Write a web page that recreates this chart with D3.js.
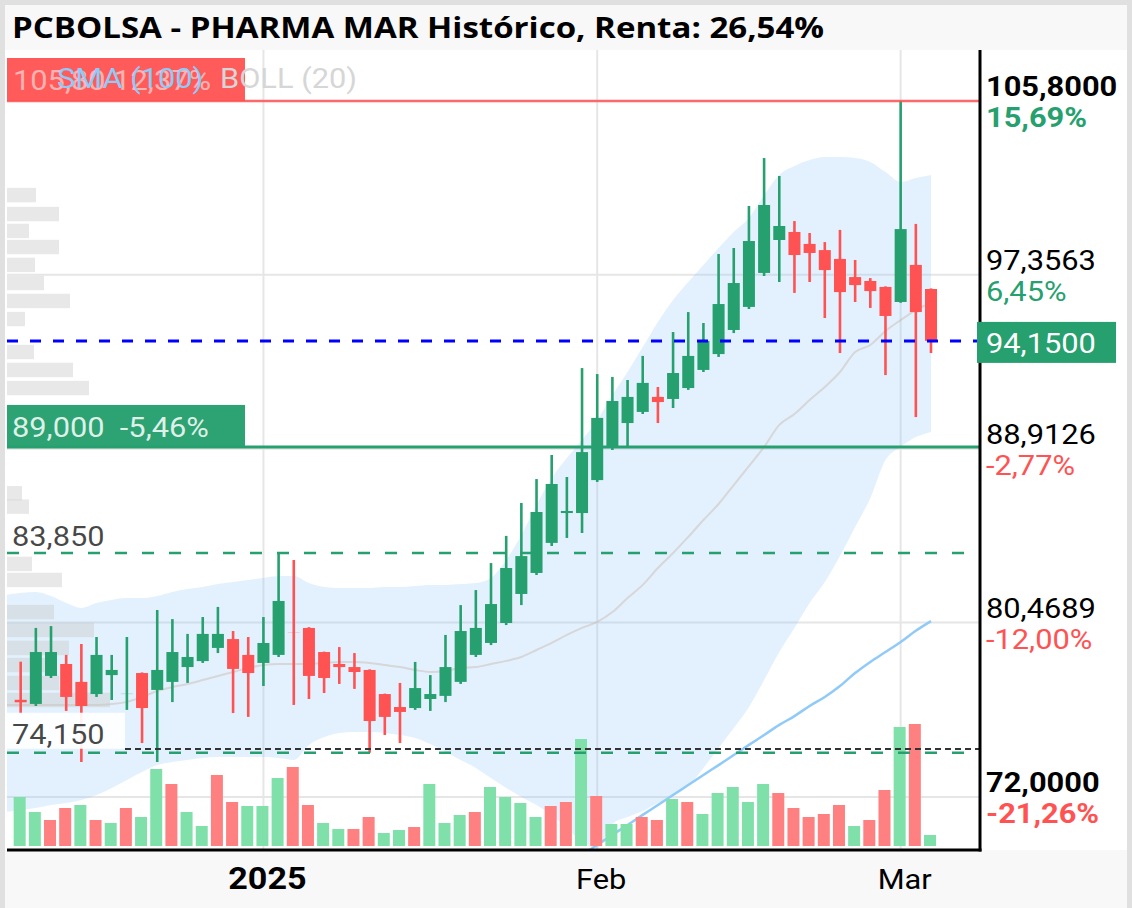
<!DOCTYPE html>
<html lang="es">
<head>
<meta charset="UTF-8">
<title>PCBOLSA - PHARMA MAR Histórico</title>
<script src="https://d3js.org/d3.v7.min.js"></script>
<style>
  body { margin: 0; background: #fff; }
  svg { display: block; }
  svg text { white-space: pre; }
</style>
</head>
<body>
<div id="chart"></div>
<script>
// sesiones (la primera solo sirve para prolongar las bandas por la izquierda)
const dates = ['2024-12-05','2024-12-06','2024-12-09','2024-12-10','2024-12-11','2024-12-12','2024-12-13','2024-12-16','2024-12-17','2024-12-18','2024-12-19','2024-12-20','2024-12-23','2024-12-24','2024-12-27','2024-12-30','2024-12-31',
  '2025-01-02','2025-01-03','2025-01-06','2025-01-07','2025-01-08','2025-01-09','2025-01-10','2025-01-13','2025-01-14','2025-01-15','2025-01-16','2025-01-17','2025-01-20','2025-01-21','2025-01-22','2025-01-23','2025-01-24','2025-01-27','2025-01-28','2025-01-29','2025-01-30','2025-01-31',
  '2025-02-03','2025-02-04','2025-02-05','2025-02-06','2025-02-07','2025-02-10','2025-02-11','2025-02-12','2025-02-13','2025-02-14','2025-02-17','2025-02-18','2025-02-19','2025-02-20','2025-02-21','2025-02-24','2025-02-25','2025-02-26','2025-02-27','2025-02-28',
  '2025-03-03','2025-03-04','2025-03-05'];

// velas desde 2024-12-06
const opens  = [76.72,76.52,77.88,78.46,77.59,77.00,77.92,77.00,78.02,77.20, 77.59,78.31,78.60,79.24,79.67,78.90,78.51,78.90,80.00,80.21, 79.04,78.46,78.31,78.17,77.00,76.37,76.32,76.76,76.91,77.59, 78.90,79.48,80.45,81.86,82.88,84.34,85.79,85.79,87.39,89.00, 90.16,90.70,91.43,91.33,91.86,92.74,93.51,94.68,95.80,97.45, 99.05,99.44,98.86,98.56,98.13,97.25,97.06,96.77,96.04,97.84, 96.67];
const highs  = [78.57,80.21,80.30,78.90,79.43,79.77,78.90,79.77,78.05,81.08, 80.64,79.92,80.74,81.23,80.06,79.77,80.74,83.85,83.51,80.25, 79.06,79.28,78.99,78.20,77.02,77.54,78.56,77.92,79.87,81.32, 82.05,83.36,84.68,86.28,87.44,88.61,87.54,92.83,92.54,92.40, 92.25,93.42,91.91,94.58,95.55,95.02,98.37,98.66,100.70,103.03, 102.16,99.97,99.39,98.95,99.54,98.08,97.20,96.80,105.80,99.83, 96.70];
const lows   = [76.07,76.42,77.78,76.18,73.70,76.86,76.71,76.23,74.62,73.70, 76.61,77.54,78.51,78.99,76.08,75.89,77.39,78.80,76.47,76.76, 77.05,77.49,77.25,74.15,75.01,74.62,76.23,76.18,76.61,77.49, 78.80,79.38,80.35,81.32,82.78,84.19,84.58,84.82,87.30,88.85, 89.00,90.60,90.16,90.89,91.77,92.64,93.37,94.53,95.70,97.30, 97.01,96.48,97.01,95.26,93.56,96.04,95.75,92.49,96.00,90.45, 93.56];
const closes = [76.60,79.04,79.04,76.86,76.42,78.90,78.17,77.01,76.32,78.17, 79.04,78.80,79.92,79.92,78.22,78.02,79.48,81.52,79.99,77.88, 77.78,78.31,78.07,75.69,75.89,76.13,77.29,77.00,78.31,80.06, 80.21,81.37,83.12,83.70,85.84,87.20,85.89,88.75,90.41,91.23, 91.43,92.11,91.18,92.59,93.42,94.15,95.94,96.96,99.00,100.75, 99.73,98.32,98.42,97.59,96.52,96.86,96.57,95.36,99.58,95.55, 94.15];

// volumen (miles de acciones) y sentido de la barra
const volumes  = [49,34,26,38,41,26,23,38,29,77, 62,34,20,71,44,40,40,68,79,41, 23,17,17,29,13,16,19,62,23,31, 34,59,49,43,29,40,44,107,50,22, 22,29,26,47,44,32,53,59,44,62, 53,38,29,32,41,20,26,56,119,122, 11];
const volumeUp = [1,1,0,0,1,0,1,0,1,1, 0,1,1,0,0,1,1,1,0,0, 1,1,0,0,1,1,0,1,1,1, 0,1,1,1,1,0,0,1,0,1, 1,0,0,1,0,1,1,1,1,1, 0,0,0,0,0,1,0,0,1,0, 1];

// Bollinger (20), desde 2024-12-05
const bollUpper  = [81.81,81.91,81.96,81.76,81.42,81.18,81.42,81.57,81.66,81.66,81.76,81.96,82.10,82.20,82.34,82.44,82.54,82.64,82.73,82.73,82.39,82.20,82.15,82.15,82.15,82.20,82.20,82.25,82.30,82.30,82.34,82.39,82.64,83.51,84.72,86.18,87.49,88.46,89.34,90.31,91.52,92.64,93.85,95.07,96.14,97.01,97.84,98.66,99.44,100.12,101.23,102.21,102.64,102.93,103.08,103.08,103.03,102.84,102.35,101.87,102.06,102.21];
const bollMiddle = [76.47,76.47,76.47,76.47,76.47,76.47,76.47,76.52,76.62,76.86,77.15,77.34,77.49,77.68,77.88,78.07,78.27,78.41,78.46,78.46,78.46,78.51,78.56,78.56,78.51,78.41,78.31,78.17,78.07,78.12,78.27,78.31,78.46,78.61,78.80,79.14,79.48,79.87,80.21,80.50,80.98,81.66,82.30,83.12,83.85,84.63,85.45,86.23,87.15,88.07,89.00,90.07,90.60,91.28,91.91,92.64,93.61,93.95,94.63,95.16,95.65,95.99];
const bollLower  = [71.27,71.37,71.47,71.61,71.71,71.86,72.10,72.44,72.83,73.21,73.55,73.70,73.80,73.89,73.94,73.94,73.94,73.94,73.89,73.80,74.53,74.91,75.11,75.16,75.16,75.11,75.01,74.87,74.57,74.19,73.80,73.41,72.92,72.44,72.00,71.61,71.13,70.50,69.82,69.52,70.69,71.03,71.32,71.71,72.05,72.53,73.41,74.38,75.35,76.37,77.68,79.04,80.21,81.42,82.44,83.70,85.11,86.52,88.37,89.00,89.48,89.73];

// SMA (100), desde 2025-01-31
const sma100Start = '2025-01-31';
const sma100 = [69.18,69.67,70.16,70.64,71.13,71.61,72.10,72.58,73.07,73.55,74.04,74.53,75.01,75.50,75.93,76.42,76.86,77.39,78.02,78.56,79.04,79.53,80.07,80.54];

// perfil de volumen por precio
const profilePrices  = [101.23,100.31,99.49,98.71,97.84,96.96,96.09,95.21,93.61,92.74,91.86,86.75,86.10,83.32,82.54,80.98,80.11,79.24,78.41,77.54,76.71];
const profileVolumes = [290,520,220,520,280,370,630,180,270,660,820,150,220,250,550,470,870,620,500,520,1030];

// ejes
const yTicks = [72, 80.4689, 88.9126, 97.3563, 105.8];
const yTickPct = ['-21,26%', '-12,00%', '-2,77%', '6,45%', '15,69%'];
const xTickDates = ['2025-01-02', '2025-02-03', '2025-03-03'];
const xTickLabels = ['2025', 'Feb', 'Mar'];

// niveles
const lastPrice = 94.15;
const maxLevel = 105.80, maxLabel = '105,80 12,37%';
const supportLevel = 89.00, supportLabel = '89,000  -5,46%';
const highLevel = 83.85, highLabel = '83,850';
const lowLevel = 74.15, lowLabel = '74,150';
const stopLevel = 74.33;

const W = 1133, H = 908;
const plot = { left: 7, right: 979, top: 50, bottom: 849 };
const GREEN = '#26a06e', RED = '#ff5252';
const SX = 1.1;

const es = d3.formatLocale({ decimal: ',', thousands: '.', grouping: [3], currency: ['', '€'] });
const fmt4 = es.format('.4f');

const svg = d3.select('#chart').append('svg').attr('width', W).attr('height', H);

const x = d3.scalePoint().domain(dates).range([5.5, 931]);
const y = d3.scaleLinear().domain([72, 105.8]).range([797, 101]);
const yVol = d3.scaleLinear().domain([0, 130]).range([846, 716]);
const xProf = d3.scaleLinear().domain([0, 1030]).range([0, 103]);
const candleDates = dates.slice(1);

function txt(parent, px, py, s, o) {
  return parent.append('text')
    .attr('transform', `translate(${px},${py}) scale(${o.sx || SX},1)`)
    .attr('font-family', o.family || 'Roboto, sans-serif')
    .attr('font-size', o.size || 28)
    .attr('font-weight', o.weight || 400)
    .attr('fill', o.fill || '#000')
    .attr('fill-opacity', o.op == null ? 1 : o.op)
    .attr('text-anchor', o.anchor || 'start')
    .text(s);
}

// fondo y marco
svg.append('rect').attr('width', W).attr('height', H).attr('fill', '#fff');
svg.append('rect').attr('x', 5).attr('y', 850).attr('width', 1122).attr('height', 60).attr('fill', '#f8f8f8');
svg.append('rect').attr('x', 5).attr('y', 5).attr('width', 1122).attr('height', 45).attr('fill', '#f8f8f8');
svg.append('rect').attr('x', 2.5).attr('y', 2.5).attr('width', 1127).attr('height', 930)
  .attr('fill', 'none').attr('stroke', '#e0e0e0').attr('stroke-width', 5);

txt(svg, 12, 38, 'PCBOLSA - PHARMA MAR Histórico, Renta: 26,54%',
  { family: "'Open Sans', sans-serif", size: 28, weight: 700, sx: 1.18 });

svg.append('clipPath').attr('id', 'clip').append('rect')
  .attr('x', plot.left).attr('y', plot.top)
  .attr('width', plot.right - plot.left).attr('height', plot.bottom - plot.top);
const g = svg.append('g').attr('clip-path', 'url(#clip)');

// rejilla
g.selectAll('.hgrid').data(yTicks).join('line')
  .attr('x1', plot.left).attr('x2', plot.right)
  .attr('y1', d => y(d)).attr('y2', d => y(d))
  .attr('stroke', '#e6e6e6').attr('stroke-width', 2);
g.selectAll('.vgrid').data(xTickDates).join('line')
  .attr('x1', d => x(d)).attr('x2', d => x(d))
  .attr('y1', plot.top).attr('y2', plot.bottom)
  .attr('stroke', '#e6e6e6').attr('stroke-width', 2);

// bandas de Bollinger
const band = d3.area()
  .x((d, i) => x(dates[i]))
  .y0((d, i) => y(bollLower[i]))
  .y1((d, i) => y(bollUpper[i]))
  .curve(d3.curveMonotoneX);
g.append('path').datum(bollUpper).attr('d', band).attr('fill', 'rgba(144,202,249,0.26)');
g.append('path').datum(bollMiddle)
  .attr('d', d3.line().x((d, i) => x(dates[i])).y(d => y(d)).curve(d3.curveMonotoneX))
  .attr('fill', 'none').attr('stroke', 'rgba(200,175,160,0.4)').attr('stroke-width', 2);

// SMA 100
const smaOffset = dates.indexOf(sma100Start);
g.append('path').datum(sma100)
  .attr('d', d3.line().x((d, i) => x(dates[i + smaOffset])).y(d => y(d)).curve(d3.curveMonotoneX))
  .attr('fill', 'none').attr('stroke', '#90caf9').attr('stroke-width', 2.5);

// perfil de volumen
g.selectAll('.prof').data(profilePrices).join('rect')
  .attr('x', plot.left)
  .attr('y', d => y(d + 0.35))
  .attr('width', (d, i) => xProf(profileVolumes[i]))
  .attr('height', d => y(d - 0.35) - y(d + 0.35))
  .attr('fill', 'rgba(200,200,200,0.42)');

// volumen
g.selectAll('.vol').data(volumes).join('rect')
  .attr('x', (d, i) => x(candleDates[i]) - 7)
  .attr('y', d => yVol(d))
  .attr('width', 12)
  .attr('height', d => yVol(0) - yVol(d))
  .attr('fill', (d, i) => volumeUp[i] ? '#80e0aa' : '#ff8080');

// velas
const candles = g.selectAll('.candle').data(candleDates).join('g');
candles.append('line')
  .attr('x1', d => x(d)).attr('x2', d => x(d))
  .attr('y1', (d, i) => y(highs[i])).attr('y2', (d, i) => y(lows[i]))
  .attr('stroke', (d, i) => closes[i] >= opens[i] ? GREEN : RED)
  .attr('stroke-width', 2.6);
candles.append('rect')
  .attr('x', d => x(d) - 6)
  .attr('y', (d, i) => y(Math.max(opens[i], closes[i])))
  .attr('width', 12)
  .attr('height', (d, i) => Math.abs(y(opens[i]) - y(closes[i])))
  .attr('fill', (d, i) => closes[i] >= opens[i] ? GREEN : RED);

// niveles
g.append('line').attr('x1', plot.left).attr('x2', plot.right)
  .attr('y1', y(maxLevel)).attr('y2', y(maxLevel))
  .attr('stroke', RED).attr('stroke-opacity', 0.85).attr('stroke-width', 2.5);
g.append('line').attr('x1', plot.left).attr('x2', plot.right)
  .attr('y1', y(lastPrice)).attr('y2', y(lastPrice))
  .attr('stroke', '#0000ff').attr('stroke-width', 3).attr('stroke-dasharray', '11,12');
g.append('line').attr('x1', plot.left).attr('x2', plot.right)
  .attr('y1', y(supportLevel)).attr('y2', y(supportLevel))
  .attr('stroke', GREEN).attr('stroke-width', 3);
[highLevel, lowLevel].forEach(v => {
  g.append('line').attr('x1', plot.left).attr('x2', plot.right)
    .attr('y1', y(v)).attr('y2', y(v))
    .attr('stroke', GREEN).attr('stroke-width', 2.5).attr('stroke-dasharray', '12,15');
});
g.append('line').attr('x1', 125).attr('x2', plot.right)
  .attr('y1', y(stopLevel)).attr('y2', y(stopLevel))
  .attr('stroke', '#333').attr('stroke-width', 2).attr('stroke-dasharray', '6,4');

// etiquetas de niveles
svg.append('rect').attr('x', plot.left).attr('y', y(maxLevel) - 43).attr('width', 238).attr('height', 43)
  .attr('fill', RED).attr('fill-opacity', 0.95);
txt(svg, 13, y(maxLevel) - 11, maxLabel, { size: 28, fill: '#fff', op: 0.55 });
txt(svg, 57, y(maxLevel) - 13, 'SMA (100)', { size: 28, fill: '#90caf9' });
txt(svg, 220, y(maxLevel) - 13, 'BOLL (20)', { size: 28, fill: '#d6d6d6' });

svg.append('rect').attr('x', plot.left).attr('y', y(supportLevel) - 42).attr('width', 238).attr('height', 42)
  .attr('fill', GREEN).attr('fill-opacity', 0.97);
txt(svg, 12, y(supportLevel) - 10, supportLabel, { size: 28, fill: '#fff', op: 0.85 });

svg.append('rect').attr('x', plot.left).attr('y', y(highLevel) - 34).attr('width', 103).attr('height', 30)
  .attr('fill', '#fff').attr('fill-opacity', 0.85);
txt(svg, 12, y(highLevel) - 7, highLabel, { size: 28, fill: '#000', op: 0.72 });
svg.append('rect').attr('x', plot.left).attr('y', y(lowLevel) - 40).attr('width', 118).attr('height', 36)
  .attr('fill', '#fff').attr('fill-opacity', 0.92);
txt(svg, 12, y(lowLevel) - 9, lowLabel, { size: 28, fill: '#000', op: 0.72 });

// eje derecho
svg.append('line').attr('x1', 980).attr('x2', 980).attr('y1', plot.top).attr('y2', 851.5)
  .attr('stroke', '#000').attr('stroke-width', 3);
svg.append('line').attr('x1', plot.left).attr('x2', 981.5).attr('y1', 850).attr('y2', 850)
  .attr('stroke', '#000').attr('stroke-width', 3);

yTicks.forEach((v, i) => {
  const edge = i === 0 || i === yTicks.length - 1;
  const pct = yTickPct[i];
  txt(svg, 986, y(v) - 5, fmt4(v), { size: 28, weight: edge ? 700 : 400, fill: '#000' });
  txt(svg, 986, y(v) + 26, pct, { size: 28, weight: edge ? 700 : 400, fill: pct[0] === '-' ? RED : GREEN });
});

// último precio
svg.append('rect').attr('x', 977).attr('y', y(lastPrice) - 19).attr('width', 139).attr('height', 41).attr('fill', GREEN);
txt(svg, 986, y(lastPrice) + 12, fmt4(lastPrice), { size: 28, fill: '#fff' });

// eje inferior
xTickDates.forEach((d, i) => {
  txt(svg, x(d) + 4, 889, xTickLabels[i], { size: i === 0 ? 31 : 28, weight: i === 0 ? 700 : 400, anchor: 'middle', fill: '#000' });
});
</script>
</body>
</html>
